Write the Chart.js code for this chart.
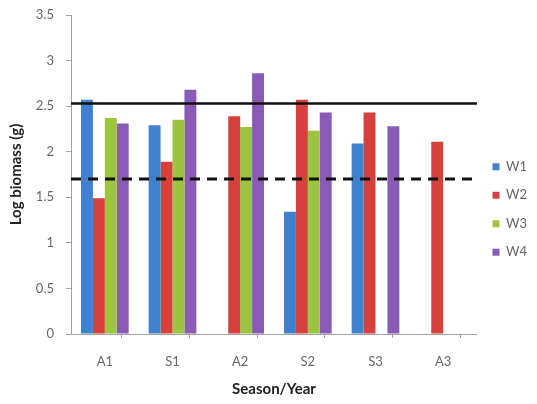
<!DOCTYPE html>
<html>
<head>
<meta charset="utf-8">
<script src="https://cdn.jsdelivr.net/npm/chart.js@4"></script>
<style>
  html, body { margin: 0; padding: 0; background: #ffffff; }
  #wrap { width: 537px; height: 404px; }
</style>
</head>
<body>
<div id="wrap"><canvas id="biomassChart" width="537" height="404"></canvas></div>
<script>
// Season/Year categories and log biomass per well
const seasons = ['A1', 'S1', 'A2', 'S2', 'S3', 'A3'];
const w1 = [2.57, 2.29, null, 1.34, 2.09, null];
const w2 = [1.49, 1.89, 2.39, 2.57, 2.43, 2.11];
const w3 = [2.37, 2.35, 2.27, 2.23, null, null];
const w4 = [2.31, 2.68, 2.86, 2.43, 2.28, null];
const seriesNames = ['W1', 'W2', 'W3', 'W4'];
const seriesColors = ['#3f80cf', '#d6403d', '#9bc53f', '#8a5bb5'];

// reference levels (solid and dashed horizontal lines)
const solidLevel = 2.53;
const dashedLevel = 1.70;

const yTicks = [0, 0.5, 1, 1.5, 2, 2.5, 3, 3.5];

const tickColor = '#666666';
const axisColor = '#a0a0a0';

// x runs on category index; half steps are the category borders
const xMin = -0.5;
const xMax = seasons.length - 0.5;

// ticks every half step halve the bar ruler, so the percentage is doubled
const barSets = [w1, w2, w3, w4].map((vals, i) => ({
  type: 'bar',
  label: seriesNames[i],
  data: vals.map((v, k) => ({ x: k, y: v })),
  backgroundColor: seriesColors[i],
  borderWidth: 0,
  barPercentage: 1.0,
  categoryPercentage: 1.41,
  order: 2
}));

const levelSet = (level, dash) => ({
  type: 'line',
  label: '',
  data: [{ x: xMin, y: level }, { x: xMax, y: level }],
  borderColor: '#111111',
  borderWidth: dash ? 3 : 2.5,
  borderDash: dash ? [10, 7] : [],
  pointRadius: 0,
  fill: false,
  order: 1
});

new Chart(document.getElementById('biomassChart'), {
  data: {
    datasets: [...barSets, levelSet(solidLevel, false), levelSet(dashedLevel, true)]
  },
  options: {
    responsive: false,
    animation: false,
    layout: { padding: { left: 0, top: 15, right: 0, bottom: 0 } },
    plugins: {
      legend: {
        position: 'right',
        align: 'center',
        labels: {
          boxWidth: 7,
          boxHeight: 7,
          padding: 15.5,
          color: tickColor,
          font: { family: 'Lato', size: 13 },
          filter: item => item.text !== ''
        }
      },
      tooltip: { enabled: false }
    },
    scales: {
      x: {
        type: 'linear',
        min: xMin,
        max: xMax,
        offset: false,
        afterBuildTicks: scale => {
          const t = [];
          for (let v = xMin; v <= xMax + 1e-9; v += 0.5) t.push({ value: v });
          scale.ticks = t;
        },
        grid: {
          drawOnChartArea: false,
          drawTicks: true,
          tickLength: 4,
          color: ctx => (ctx.tick && Math.abs(ctx.tick.value % 1) === 0.5 ? axisColor : 'rgba(0,0,0,0)')
        },
        border: { display: true, color: axisColor, width: 1 },
        ticks: {
          autoSkip: false,
          maxRotation: 0,
          color: tickColor,
          padding: 16,
          font: { family: 'Lato', size: 13 },
          callback: v => (Number.isInteger(v) ? seasons[v] : '')
        },
        title: {
          display: true,
          text: 'Season/Year',
          color: '#222222',
          font: { family: 'Lato', size: 15, weight: 'bold' },
          padding: { top: 0, bottom: 6 }
        },
        afterFit: scale => { scale.height = 70; }
      },
      y: {
        min: 0,
        max: 3.5,
        afterBuildTicks: scale => { scale.ticks = yTicks.map(v => ({ value: v })); },
        grid: {
          drawOnChartArea: false,
          drawTicks: true,
          tickLength: 5,
          color: axisColor
        },
        border: { display: true, color: axisColor, width: 1 },
        ticks: {
          color: tickColor,
          padding: 12,
          font: { family: 'Lato', size: 13 },
          callback: v => String(v)
        },
        title: {
          display: true,
          text: 'Log biomass (g)',
          color: '#222222',
          font: { family: 'Lato', size: 15, weight: 'bold' },
          padding: { top: 7, bottom: 0 }
        },
        afterFit: scale => {
          scale.width = 71;
          scale.paddingTop = 0;
        }
      }
    }
  }
});
</script>
</body>
</html>
